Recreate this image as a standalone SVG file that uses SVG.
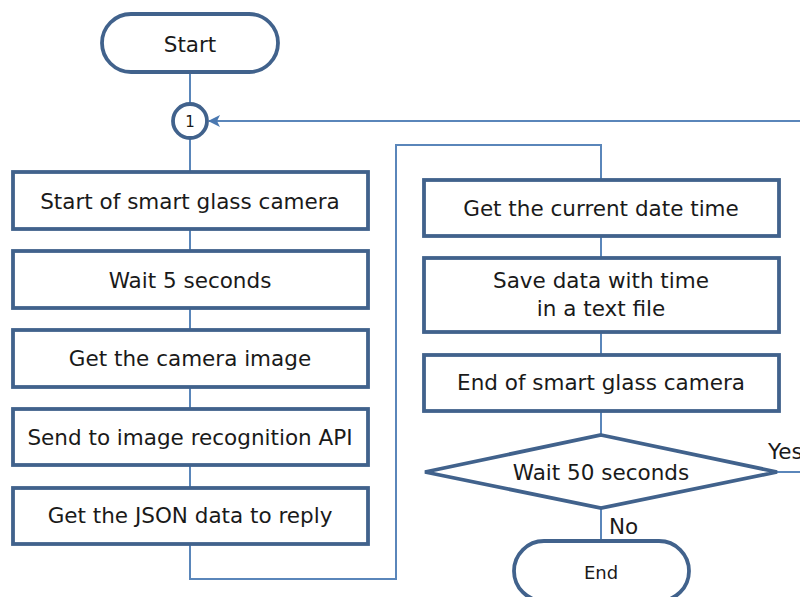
<svg xmlns="http://www.w3.org/2000/svg" width="800" height="597" viewBox="0 0 800 597">
<style>
.box{fill:#fff;stroke:#41628c;stroke-width:3.8}
.con{fill:none;stroke:#5a86ba;stroke-width:2}
text{font-family:"DejaVu Sans","Verdana",sans-serif;font-size:21.5px;fill:#1a1a1a;text-anchor:middle}
</style>
<defs>
<marker id="arr" markerWidth="12" markerHeight="12" refX="11" refY="6" orient="auto" markerUnits="userSpaceOnUse">
<path d="M0,0 L12,6 L0,12 L3,6 Z" fill="#4a78b0"/>
</marker>
</defs>
<rect width="800" height="597" fill="#fff"/>
<g id="connectors">
<line class="con" x1="190" y1="72" x2="190" y2="104"/>
<line class="con" x1="190" y1="138" x2="190" y2="171"/>
<line class="con" x1="190" y1="229" x2="190" y2="250"/>
<line class="con" x1="190" y1="308" x2="190" y2="329"/>
<line class="con" x1="190" y1="387" x2="190" y2="408"/>
<line class="con" x1="190" y1="465" x2="190" y2="487"/>
<polyline class="con" points="190,544 190,579 396,579 396,145 601,145 601,179"/>
<line class="con" x1="601" y1="236" x2="601" y2="257"/>
<line class="con" x1="601" y1="332" x2="601" y2="354"/>
<line class="con" x1="601" y1="411" x2="601" y2="435"/>
<line class="con" x1="601" y1="508" x2="601" y2="540"/>
<line class="con" x1="777" y1="472" x2="800" y2="472"/>
<line class="con" x1="800" y1="121" x2="209" y2="121" marker-end="url(#arr)"/>
</g>
<g id="start"><rect class="box" x="102" y="14" width="176" height="58" rx="29"/><text x="190" y="52">Start</text></g>
<g id="conn1"><circle class="box" cx="190" cy="121" r="17"/><text x="190" y="127" style="font-size:15px">1</text></g>
<g id="n1"><rect class="box" x="13" y="172" width="355" height="57"/><text x="190" y="209">Start of smart glass camera</text></g>
<g id="n2"><rect class="box" x="13" y="251" width="355" height="57"/><text x="190" y="288">Wait 5 seconds</text></g>
<g id="n3"><rect class="box" x="13" y="330" width="355" height="57"/><text x="190" y="366">Get the camera image</text></g>
<g id="n4"><rect class="box" x="13" y="409" width="355" height="56"/><text x="190" y="445">Send to image recognition API</text></g>
<g id="n5"><rect class="box" x="13" y="488" width="355" height="56"/><text x="190" y="523">Get the JSON data to reply</text></g>
<g id="r1"><rect class="box" x="424" y="180" width="355" height="56"/><text x="601" y="216">Get the current date time</text></g>
<g id="r2"><rect class="box" x="424" y="258" width="355" height="74"/><text x="601" y="288">Save data with time</text><text x="601" y="316">in a text file</text></g>
<g id="r3"><rect class="box" x="424" y="355" width="355" height="56"/><text x="601" y="390">End of smart glass camera</text></g>
<g id="d1"><polygon class="box" points="601,435 777,472 601,508 425,472"/><text x="601" y="480">Wait 50 seconds</text></g>
<g id="labels"><text x="768" y="459" style="text-anchor:start">Yes</text><text x="609" y="534" style="text-anchor:start">No</text></g>
<g id="end"><rect class="box" x="514" y="541" width="175" height="60" rx="30"/><text x="601" y="579" style="font-size:18px">End</text></g>
</svg>
